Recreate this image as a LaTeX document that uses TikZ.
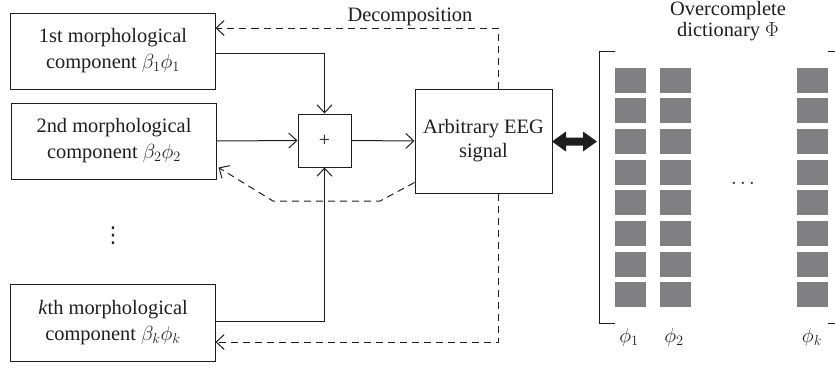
\RequirePackage{fix-cm}
\documentclass[tikz,border=0pt]{standalone}
\usepackage{fontspec}
\setmainfont{Liberation Serif}
\newfontfamily\symfont{DejaVu Sans}
\usepackage{graphicx}
\usetikzlibrary{arrows.meta,calc}
\definecolor{ink}{RGB}{30,30,30}
\definecolor{sq}{RGB}{128,128,131}
\begin{document}
\begin{tikzpicture}[x=1bp,y=-1bp,
  every node/.style={text=ink},
  txt/.style={font=\fontsize{20.5}{26}\selectfont},
  box/.style={txt,draw=ink,line width=1bp,minimum width=204bp,minimum height=76bp,inner sep=0pt,align=center},
  arr/.style={draw=ink,line width=1bp,-{Straight Barb[length=8bp,width=15bp]}},
  dsh/.style={arr,dash pattern=on 7bp off 5bp}]
\useasboundingbox (0,0) rectangle (835,368);
% boxes
\node[box] (b1) at (113,51) {1st morphological\\component $\beta_1\phi_1$};
\node[box] (b2) at (114,141) {2nd morphological\\component $\beta_2\phi_2$};
\node[box,minimum height=77bp] (bk) at (113,322.5) {\textit{k}th morphological\\component $\beta_k\phi_k$};
\node[draw=ink,line width=1bp,minimum size=53bp,inner sep=0pt,font=\fontsize{20}{20}\selectfont] (plus) at (324.5,140.5) {+};
\node[box,minimum width=137bp,minimum height=104bp,font=\fontsize{20.5}{24}\selectfont] (eeg) at (483.5,141) {Arbitrary EEG\\signal};
\node[font=\symfont\fontsize{22}{22}\selectfont] (vd) at (113,236) {⋮};
% solid connectors
\draw[arr] ([yshift=-2bp]b1.east) -| (plus.north);
\draw[arr] (b2.east) -- (plus.west);
\draw[arr] ([yshift=1.5bp]bk.east) -| (plus.south);
\draw[arr] (plus.east) -- (eeg.west);
% dashed connectors
\coordinate (dt) at (498,28);
\coordinate (db) at (498,342);
\coordinate (m0) at ($(eeg.south west)+(0,-11)$);
\coordinate (m1) at (380,201);
\coordinate (m2) at (273,201);
\draw[dsh] (eeg.north -| dt) -- (dt) -- (dt -| b1.east);
\draw[dsh] (eeg.south -| db) -- (db) -- (db -| bk.east);
\draw[dsh] (m0) -- (m1) -- (m2) -- ($(b2.south east)+(2,-12)$);
\node[txt,anchor=base] (dec) at (410,21) {Decomposition};
% double arrow
\fill[ink] (552,141.5) -- (566,131.5) -- (566,137.5) -- (583,137.5) -- (583,131.5) -- (597,141.5)
  -- (583,151.5) -- (583,145.5) -- (566,145.5) -- (566,151.5) -- cycle;
% dictionary
\draw[ink,line width=1bp] (615,51) -- (599,51) -- (599,323) -- (615,323);
\draw[ink,line width=1bp] (828,51) -- (836,51) -- (836,323) -- (828,323);
\foreach \x in {615,660,797}{
  \foreach \i in {0,...,7}{
    \fill[sq] (\x,{67.5+\i*30.7}) rectangle ++(31,25);
  }
}
\node[txt] (dots) at (743,184) {$\cdots$};
\node[txt] (p1) at (629,337) {$\phi_1$};
\node[txt] (p2) at (674,337) {$\phi_2$};
\node[txt] (pk) at (812,337) {$\phi_k$};
\node[txt,align=center,font=\fontsize{20.5}{21}\selectfont] (dict) at (728,21) {Overcomplete\\dictionary $\Phi$};
\end{tikzpicture}
\end{document}
